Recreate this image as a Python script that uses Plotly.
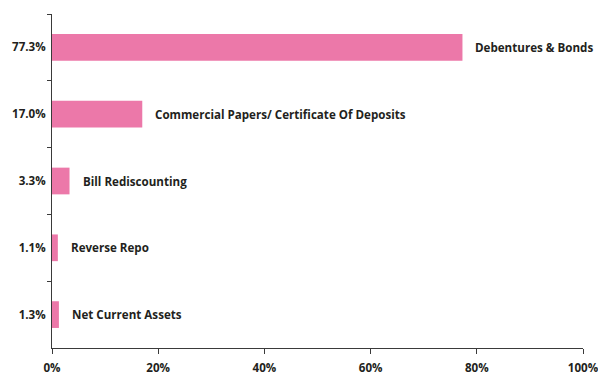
import plotly.graph_objects as go

# portfolio allocation
holdings = [
    "Debentures & Bonds",
    "Commercial Papers/ Certificate Of Deposits",
    "Bill Rediscounting",
    "Reverse Repo",
    "Net Current Assets",
]
weights = [77.3, 17.0, 3.3, 1.1, 1.3]
x_ticks = [0, 20, 40, 60, 80, 100]

pink = "#ec78a9"
ink = "#231f20"
font = dict(family="Open Sans", size=11.6, color=ink)

cats = [f"{w:.1f}%" for w in weights]

fig = go.Figure(
    go.Bar(
        x=weights,
        y=cats,
        orientation="h",
        marker=dict(color=pink, line=dict(width=0)),
        width=0.4,
        hoverinfo="skip",
    )
)

for name, w, c in zip(holdings, weights, cats):
    fig.add_annotation(
        x=w, y=c, text=f"<b>{name}</b>", showarrow=False,
        xanchor="left", xshift=11, font=font,
    )

fig.update_layout(
    width=598,
    height=374,
    margin=dict(l=52, r=15, t=14, b=26, autoexpand=False),
    paper_bgcolor="white",
    plot_bgcolor="white",
    font=font,
    showlegend=False,
    xaxis=dict(
        range=[0, 100],
        tickvals=x_ticks,
        ticktext=[f"<b>{t}%</b>" for t in x_ticks],
        showgrid=False,
        zeroline=False,
        showline=True,
        linecolor="#3a3a3a",
        linewidth=1,
        ticks="outside",
        ticklen=5,
        tickcolor="#3a3a3a",
        ticklabelstandoff=4,
        automargin=False,
        ticklabeloverflow="allow",
        fixedrange=True,
    ),
    yaxis=dict(
        type="category",
        categoryorder="array",
        categoryarray=cats,
        autorange="reversed",
        tickson="boundaries",
        tickprefix="<b>",
        ticksuffix="</b>",
        showgrid=False,
        zeroline=False,
        showline=True,
        linecolor="#3a3a3a",
        linewidth=1,
        ticks="outside",
        ticklen=4,
        tickcolor="#3a3a3a",
        ticklabelstandoff=3,
        automargin=False,
        fixedrange=True,
    ),
)

# drop the browser's default body margin so the figure fills the window
fig.write_html(
    "out.html",
    config={"displayModeBar": False},
    post_script="document.body.style.margin='0';document.body.style.overflow='hidden';",
)
